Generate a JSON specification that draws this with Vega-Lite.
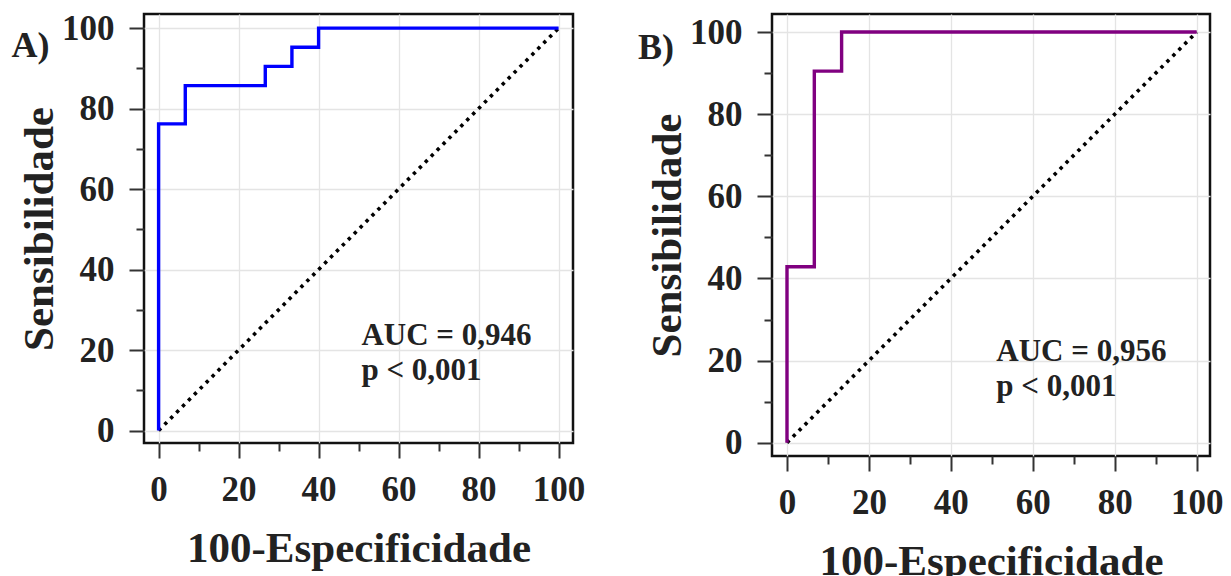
{
  "$schema": "https://vega.github.io/schema/vega-lite/v6.json",
  "background": "white",
  "padding": {"left": 10, "top": 9, "right": 0, "bottom": 0},
  "spacing": 49,
  "config": {
    "view": {"stroke": "#111111", "strokeWidth": 2.5},
    "axis": {
      "values": [0, 10, 20, 30, 40, 50, 60, 70, 80, 90, 100],
      "labelExpr": "datum.value % 20 == 0 ? datum.label : ''",
      "tickSize": {"condition": {"test": "datum.value % 20 == 0", "value": 15}, "value": 8},
      "gridOpacity": {"condition": {"test": "datum.value % 20 == 0", "value": 1}, "value": 0},
      "gridColor": "#e4e4e4",
      "gridWidth": 1.3,
      "tickColor": "#333333",
      "tickWidth": 2,
      "domain": false,
      "labelFont": "Liberation Serif",
      "labelFontWeight": "bold",
      "labelFontSize": 35,
      "labelColor": "#222222",
      "labelOverlap": false,
      "labelFlush": false,
      "titleFont": "Liberation Serif",
      "titleFontWeight": "bold",
      "titleFontSize": 43,
      "titleColor": "#222222"
    },
    "axisX": {"labelPadding": 14, "titlePadding": 20},
    "axisY": {"labelPadding": 15, "titlePadding": 0},
    "text": {"font": "Liberation Serif", "fontWeight": "bold", "color": "#222222"}
  },
  "datasets": {
    "diag": [{"x": 0, "y": 0}, {"x": 100, "y": 100}],
    "rocA": [
      {"i": 1, "x": 0, "y": 0},
      {"i": 2, "x": 0, "y": 76.19},
      {"i": 3, "x": 6.67, "y": 76.19},
      {"i": 4, "x": 6.67, "y": 85.71},
      {"i": 5, "x": 26.67, "y": 85.71},
      {"i": 6, "x": 26.67, "y": 90.48},
      {"i": 7, "x": 33.33, "y": 90.48},
      {"i": 8, "x": 33.33, "y": 95.24},
      {"i": 9, "x": 40, "y": 95.24},
      {"i": 10, "x": 40, "y": 100},
      {"i": 11, "x": 100, "y": 100}
    ],
    "rocB": [
      {"i": 1, "x": 0, "y": 0},
      {"i": 2, "x": 0, "y": 42.86},
      {"i": 3, "x": 6.67, "y": 42.86},
      {"i": 4, "x": 6.67, "y": 90.48},
      {"i": 5, "x": 13.33, "y": 90.48},
      {"i": 6, "x": 13.33, "y": 100},
      {"i": 7, "x": 100, "y": 100}
    ],
    "annA": [{"x": 50.7, "y": 21.2, "t": "AUC = 0,946\np < 0,001"}],
    "annB": [{"x": 51.1, "y": 19.8, "t": "AUC = 0,956\np < 0,001"}],
    "tagA": [{"x": -32, "y": 95.5, "t": "A)"}],
    "tagB": [{"x": -32, "y": 96, "t": "B)"}]
  },
  "hconcat": [
    {
      "width": 429,
      "height": 429,
      "encoding": {
        "x": {"field": "x", "type": "quantitative", "scale": {"domain": [-3.65, 103.6], "nice": false, "zero": false}, "axis": {"title": "100-Especificidade"}},
        "y": {"field": "y", "type": "quantitative", "scale": {"domain": [-3.1, 103.5], "nice": false, "zero": false}, "axis": {"title": "Sensibilidade"}}
      },
      "layer": [
        {"data": {"name": "diag"}, "mark": {"type": "line", "color": "black", "strokeWidth": 3.6, "strokeDash": [3.4, 5]}},
        {"data": {"name": "rocA"}, "mark": {"type": "line", "color": "#0000ff", "strokeWidth": 3.4}, "encoding": {"order": {"field": "i", "type": "quantitative"}}},
        {"data": {"name": "annA"}, "mark": {"type": "text", "align": "left", "baseline": "alphabetic", "fontSize": 31, "lineBreak": "\n", "lineHeight": 34.5}, "encoding": {"text": {"field": "t"}}},
        {"data": {"name": "tagA"}, "mark": {"type": "text", "align": "center", "baseline": "middle", "fontSize": 36}, "encoding": {"text": {"field": "t"}}}
      ]
    },
    {
      "width": 438,
      "height": 442,
      "encoding": {
        "x": {"field": "x", "type": "quantitative", "scale": {"domain": [-3.66, 103.25], "nice": false, "zero": false}, "axis": {"title": "100-Especificidade"}},
        "y": {"field": "y", "type": "quantitative", "scale": {"domain": [-3.24, 104.4], "nice": false, "zero": false}, "axis": {"title": "Sensibilidade"}}
      },
      "layer": [
        {"data": {"name": "diag"}, "mark": {"type": "line", "color": "black", "strokeWidth": 3.6, "strokeDash": [3.4, 5]}},
        {"data": {"name": "rocB"}, "mark": {"type": "line", "color": "#800080", "strokeWidth": 3.4}, "encoding": {"order": {"field": "i", "type": "quantitative"}}},
        {"data": {"name": "annB"}, "mark": {"type": "text", "align": "left", "baseline": "alphabetic", "fontSize": 31, "lineBreak": "\n", "lineHeight": 34.5}, "encoding": {"text": {"field": "t"}}},
        {"data": {"name": "tagB"}, "mark": {"type": "text", "align": "center", "baseline": "middle", "fontSize": 36}, "encoding": {"text": {"field": "t"}}}
      ]
    }
  ]
}
